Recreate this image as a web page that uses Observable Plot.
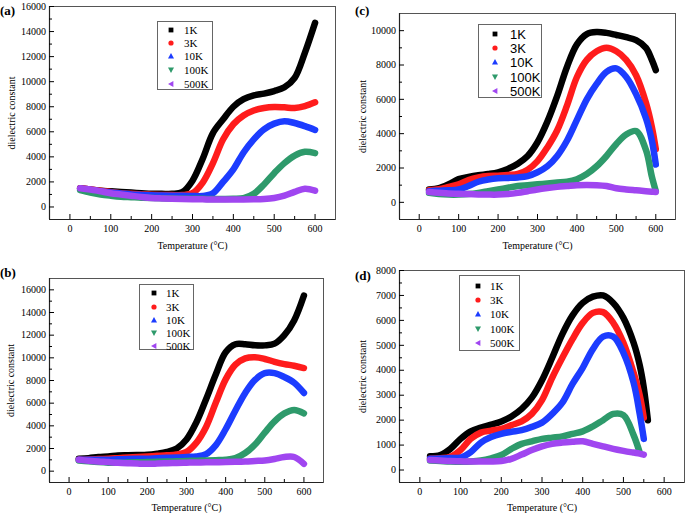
<!DOCTYPE html>
<html><head><meta charset="utf-8">
<script src="https://cdn.jsdelivr.net/npm/d3@7"></script>
<script src="https://cdn.jsdelivr.net/npm/@observablehq/plot@0.6"></script>
<style>
body{margin:0;background:#fff;}
#wrap{position:relative;width:685px;height:513px;overflow:hidden;background:#fff;}
.panel{position:absolute;}
.plab{position:absolute;font:bold 13px "Liberation Serif",serif;color:#000;line-height:13px;}
.legend{position:absolute;border:1px solid #666;background:#fff;box-sizing:border-box;}
.legend .row{position:absolute;left:0;white-space:nowrap;line-height:12px;}
.legend svg{position:absolute;overflow:visible;}
</style>
</head><body><div id="wrap"></div>
<script>
// ---------- data ----------
const seriesNames = ["1K", "3K", "10K", "100K", "500K"];
const seriesColors = ["#000000", "#ff1c1c", "#1c3cff", "#2e9a6b", "#a046f0"];
const seriesSymbols = ["square", "circle", "up", "down", "left"];

// Panel (a)
const tempA = [25,50,75,100,125,150,175,200,225,250,275,300,325,350,375,400,425,450,475,500,525,550,575,600];
const a1K   = [1500,1400,1300,1250,1200,1150,1100,1050,1050,1050,1180,2100,3850,5900,7000,8000,8600,8900,9050,9250,9550,10300,12300,14700];
const a3K   = [1500,1400,1300,1200,1100,1050,1000,980,960,950,950,1100,1950,3500,5400,6600,7300,7700,7900,7980,7950,7900,8050,8350];
const a10K  = [1450,1350,1250,1150,1080,1000,960,930,910,900,890,880,880,1100,2000,3000,4350,5400,6200,6650,6850,6700,6450,6150];
const a100K = [1350,1150,1000,900,820,780,740,710,690,670,660,650,650,640,640,650,700,1050,1800,2700,3500,4100,4400,4300];
const a500K = [1500,1400,1250,1100,1000,900,800,720,680,650,630,620,610,600,600,600,600,610,640,720,900,1200,1450,1300];

// Panel (b)
const tempB = [25,50,75,100,125,150,175,200,225,250,275,300,325,350,375,400,425,450,475,500,525,550,575,600];
const b1K   = [1100,1150,1250,1300,1380,1400,1420,1450,1550,1700,2000,2800,4300,6350,8550,10500,11200,11200,11100,11100,11250,12000,13300,15500];
const b3K   = [1000,1030,1070,1100,1150,1200,1250,1300,1350,1400,1480,1700,2500,3900,6050,8100,9400,9950,10050,9900,9650,9450,9300,9100];
const b10K  = [1000,1000,1000,1000,1050,1080,1100,1100,1150,1180,1200,1250,1300,1500,2300,3700,5350,6900,8050,8650,8650,8300,7800,6900];
const b100K = [950,870,800,750,740,760,780,800,820,850,870,900,920,950,970,1000,1150,1600,2350,3400,4400,5100,5400,5100];
const b500K = [1000,920,850,800,740,700,670,650,670,700,730,750,770,780,790,800,820,850,900,950,1080,1250,1250,650];

// Panel (c)
const tempC = [25,50,75,100,125,150,175,200,225,250,275,300,325,350,375,400,425,450,475,500,525,550,575,590,600];
const c1K   = [750,820,1050,1350,1480,1580,1650,1750,1950,2250,2700,3500,4700,6200,7900,9200,9800,9920,9870,9750,9620,9450,9000,8300,7700];
const c3K   = [700,760,900,1050,1300,1450,1530,1550,1600,1650,1900,2400,3200,4200,5650,7300,8300,8800,9000,8800,8300,7400,5800,4400,3100];
const c10K  = [650,680,700,750,950,1200,1330,1400,1420,1450,1530,1750,2100,2700,3600,4800,6000,6900,7600,7800,7300,6300,4900,3600,2200];
const c100K = [550,480,450,450,480,550,650,750,850,950,1000,1050,1100,1150,1200,1350,1650,2100,2700,3400,3950,4150,3050,1500,650];
const c500K = [600,560,520,500,480,460,450,450,480,550,650,750,830,900,950,1000,1010,1000,950,820,750,700,650,620,600];

// Panel (d)
const tempD = [25,50,75,100,125,150,175,200,225,250,275,300,325,350,375,400,425,450,475,500,525,540,550,560];
const d1K   = [550,600,850,1250,1550,1700,1820,1950,2150,2450,2900,3600,4500,5450,6200,6700,6950,7000,6700,6100,5100,4200,3300,2000];
const d3K   = [450,470,530,800,1250,1500,1580,1650,1800,1950,2250,2800,3700,4500,5250,5900,6300,6330,5900,5100,3900,3000,2100,null];
const d10K  = [450,460,480,500,720,1100,1320,1450,1530,1600,1730,1900,2250,2700,3450,4100,4850,5350,5350,4700,3500,2250,1250,null];
const d100K = [380,360,340,330,340,380,470,600,850,1050,1150,1250,1300,1350,1450,1550,1750,2000,2250,2200,1400,700,null,null];
const d500K = [400,380,360,350,340,340,340,360,450,620,800,950,1050,1100,1130,1150,1050,950,850,770,700,660,620,null];

// ---------- layout ----------
const panels = [
  {id:"(a)", left:0, top:0, w:342, h:256, m:[6,7,37,49], ydom:[-1000,16000], yt:2000,
   temps:tempA, ser:[a1K,a3K,a10K,a100K,a500K], xOff:29.5, yOff:42, serif:true,
   lab:[0,4], leg:{x:157,y:21,w:56,h:69,rows:[8,21,34,48,62],mx:13,tx:26}},
  {id:"(c)", left:342, top:0, w:343, h:256, m:[13,10,37,57], ydom:[-1000,11000], yt:2000,
   temps:tempC, ser:[c1K,c3K,c10K,c100K,c500K], xOff:29.5, yOff:41, serif:false,
   lab:[13,4], leg:{x:136,y:24,w:64,h:74,rows:[9,23,37,52,66],mx:16,tx:31}},
  {id:"(b)", left:0, top:256, w:342, h:257, m:[22,19,31,49], ydom:[-1000,17000], yt:2000,
   temps:tempB, ser:[b1K,b3K,b10K,b100K,b500K], xOff:28, yOff:43, serif:true,
   lab:[0,10], leg:{x:139,y:28,w:55,h:66,rows:[8,22,35,48,61],mx:14,tx:26}},
  {id:"(d)", left:342, top:256, w:343, h:257, m:[14,1,31,57], ydom:[-500,8000], yt:1000,
   temps:tempD, ser:[d1K,d3K,d10K,d100K,d500K], xOff:28, yOff:41, serif:true,
   lab:[13,13], leg:{x:117,y:19,w:61,h:76,rows:[10,24,38,53,67],mx:18,tx:30}}
];

const wrap = document.getElementById("wrap");

function symbolSvg(kind, color){
  const s = 2.4;
  let shape;
  if (kind === "square") shape = `<rect x="${-s}" y="${-s}" width="${2*s}" height="${2*s}" fill="${color}"/>`;
  else if (kind === "circle") shape = `<circle r="${s+0.2}" fill="${color}"/>`;
  else if (kind === "up") shape = `<path d="M0,${-s-0.6}L${s+0.6},${s}L${-s-0.6},${s}Z" fill="${color}"/>`;
  else if (kind === "down") shape = `<path d="M0,${s+0.6}L${s+0.6},${-s}L${-s-0.6},${-s}Z" fill="${color}"/>`;
  else shape = `<path d="M${-s-0.6},0L${s},${-s-0.6}L${s},${s+0.6}Z" fill="${color}"/>`;
  return shape;
}

for (const p of panels) {
  const div = document.createElement("div");
  div.className = "panel";
  div.style.left = p.left + "px"; div.style.top = p.top + "px";
  div.style.width = p.w + "px"; div.style.height = p.h + "px";

  const rows = [];
  p.ser.forEach((vals, i) => {
    p.temps.forEach((t, j) => {
      if (vals[j] != null) rows.push({t, v: vals[j], s: seriesNames[i]});
    });
  });

  const yMajor = d3.range(0, p.ydom[1] + 1, p.yt);
  const yMinor = d3.range(p.yt / 2, p.ydom[1], p.yt).filter(v => !yMajor.includes(v));
  const xMajor = d3.range(0, 601, 100);
  const xMinor = d3.range(50, 651, 100);

  const chart = Plot.plot({
    width: p.w, height: p.h,
    marginTop: p.m[0], marginRight: p.m[1], marginBottom: p.m[2], marginLeft: p.m[3],
    x: {domain: [-50, 650]},
    y: {domain: p.ydom},
    style: {fontFamily: '"Liberation Serif", serif', fontSize: "10px", color: "#000", background: "transparent", overflow: "visible"},
    marks: [
      Plot.frame({stroke: "#555", strokeWidth: 1}),
      ...seriesNames.map((name, i) => Plot.line(rows.filter(d => d.s === name), {
        x: "t", y: "v", stroke: seriesColors[i], strokeWidth: 6.5,
        curve: "catmull-rom", strokeLinejoin: "round"
      })),
      Plot.ruleX([-50], {stroke: "#222", strokeWidth: 1.2}),
      Plot.ruleY([p.ydom[0]], {stroke: "#222", strokeWidth: 1.2}),
      Plot.axisX({ticks: xMajor, tickSize: -5, tickPadding: 10, tickFormat: d => String(d),
        label: "Temperature (°C)", labelAnchor: "center", labelOffset: p.xOff, labelArrow: "none",
        fontSize: 10}),
      Plot.axisX({ticks: xMinor.filter(v => v < 650), tickSize: -3, tickFormat: () => "", label: null}),
      Plot.axisY({ticks: yMajor, tickSize: -5, tickPadding: 8.5, tickFormat: d => String(d),
        label: "dielectric constant", labelAnchor: "center", labelOffset: p.yOff, labelArrow: "none",
        fontSize: 10}),
      Plot.axisY({ticks: yMinor, tickSize: -3, tickFormat: () => "", label: null})
    ]
  });
  chart.style.position = "absolute";
  chart.style.left = "0px"; chart.style.top = "0px";
  div.appendChild(chart);

  // panel label
  const lab = document.createElement("div");
  lab.className = "plab";
  lab.textContent = p.id;
  lab.style.left = p.lab[0] + "px"; lab.style.top = p.lab[1] + "px";
  div.appendChild(lab);

  // legend
  const L = p.leg;
  const leg = document.createElement("div");
  leg.className = "legend";
  leg.style.left = L.x + "px"; leg.style.top = L.y + "px";
  leg.style.width = L.w + "px"; leg.style.height = L.h + "px";
  leg.style.font = p.serif ? '11px "Liberation Serif", serif' : '13px "Liberation Sans", Arial, sans-serif';
  seriesNames.forEach((name, i) => {
    const cy = L.rows[i];
    const svg = `<svg width="1" height="1" style="left:${L.mx}px;top:${cy}px">${symbolSvg(seriesSymbols[i], seriesColors[i])}</svg>`;
    const row = document.createElement("div");
    row.className = "row";
    row.innerHTML = svg + `<span style="position:absolute;left:${L.tx}px;top:${cy - (p.serif ? 6.5 : 7.5)}px;line-height:${p.serif ? 13 : 15}px;color:#000">${name}</span>`;
    leg.appendChild(row);
  });
  div.appendChild(leg);
  wrap.appendChild(div);
}
</script>
</body></html>
